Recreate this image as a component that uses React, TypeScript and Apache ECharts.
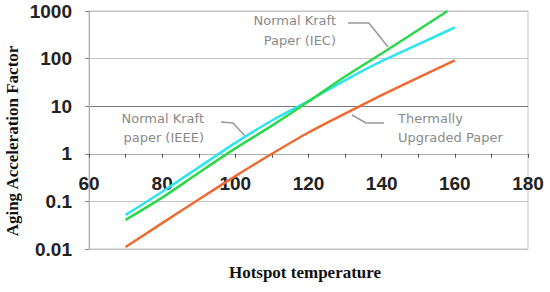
import React, { useEffect, useRef } from "react";
import * as echarts from "echarts";

const temps = [70, 80, 90, 100, 110, 120, 130, 140, 150, 160];
const iecTemps = [70, 80, 90, 100, 110, 120, 130, 140, 150, 158];
const iecValues = [0.041, 0.12, 0.4, 1.3, 3.9, 12.5, 42, 128, 400, 1000];
const ieeeNormalValues = [0.052, 0.16, 0.52, 1.7, 5.0, 13, 35, 88, 200, 450];
const upgradedValues = [0.011, 0.035, 0.11, 0.34, 1.0, 2.8, 7, 17, 40, 92];
const xTicks = [60, 80, 100, 120, 140, 160, 180];
const yTicks = [0.01, 0.1, 1, 10, 100, 1000];

const pairs = (xs: number[], ys: number[]) => xs.map((x, i) => [x, ys[i]]);

export default function App() {
  const ref = useRef<HTMLDivElement>(null);
  useEffect(() => {
    if (!ref.current) return;
    const chart = echarts.init(ref.current, undefined, { renderer: "svg" });
    const gridTop = 11;
    const gridBottom = 43;
    const gridH = 292 - gridTop - gridBottom;
    const decades = Math.log10(yTicks[yTicks.length - 1] / yTicks[0]);
    const oneOffset = -(gridH * Math.log10(1 / yTicks[0])) / decades;
    const labelStyle = { fill: "#8a8a8a", fontFamily: "DejaVu Sans", fontSize: 13 };
    chart.setOption({
      animation: false,
      grid: {
        left: 89,
        right: 22,
        top: gridTop,
        bottom: gridBottom,
        show: true,
        borderColor: "#c4c4c4",
        borderWidth: 1,
      },
      xAxis: {
        type: "value",
        min: xTicks[0],
        max: xTicks[xTicks.length - 1],
        interval: 20,
        offset: oneOffset,
        axisLine: { show: true, lineStyle: { color: "#b0b0b0", width: 1 } },
        axisTick: { show: true, length: 4, inside: false, lineStyle: { color: "#555" } },
        minorTick: { show: true, splitNumber: 2, length: 4, lineStyle: { color: "#555" } },
        splitLine: { show: false },
        axisLabel: {
          margin: 20,
          color: "#222",
          fontFamily: "Liberation Sans",
          fontWeight: "bold",
          fontSize: 19,
        },
      },
      yAxis: {
        type: "log",
        logBase: 10,
        min: yTicks[0],
        max: yTicks[yTicks.length - 1],
        axisLine: { show: true, lineStyle: { color: "#b0b0b0" } },
        axisTick: { show: true, length: 4, lineStyle: { color: "#888" } },
        splitLine: {
          show: true,
          lineStyle: {
            color: ["#c4c4c4", "#c4c4c4", "#b8b8b8", "#7a7a7a", "#c4c4c4", "#c4c4c4"],
            width: 1,
          },
        },
        axisLabel: {
          margin: 17,
          color: "#222",
          fontFamily: "Liberation Sans",
          fontWeight: "bold",
          fontSize: 19,
          formatter: (v: number) => String(Number(v.toPrecision(6))),
        },
      },
      series: [
        {
          name: "Normal Kraft paper (IEEE)",
          type: "line",
          data: pairs(temps, ieeeNormalValues),
          smooth: 0.3,
          showSymbol: false,
          lineStyle: { color: "#2ee4ee", width: 2.5 },
          z: 3,
        },
        {
          name: "Normal Kraft Paper (IEC)",
          type: "line",
          data: pairs(iecTemps, iecValues),
          smooth: 0.3,
          showSymbol: false,
          lineStyle: { color: "#2bd84c", width: 2.5 },
          z: 4,
        },
        {
          name: "Thermally Upgraded Paper",
          type: "line",
          data: pairs(temps, upgradedValues),
          smooth: 0.3,
          showSymbol: false,
          lineStyle: { color: "#ee6a30", width: 2.5 },
          z: 3,
        },
      ],
      graphic: [
        { type: "text", x: 336, y: 20, style: { ...labelStyle, text: "Normal Kraft", align: "right", verticalAlign: "middle" } },
        { type: "text", x: 336, y: 40, style: { ...labelStyle, text: "Paper (IEC)", align: "right", verticalAlign: "middle" } },
        { type: "text", x: 204, y: 118, style: { ...labelStyle, text: "Normal Kraft", align: "right", verticalAlign: "middle" } },
        { type: "text", x: 204, y: 137, style: { ...labelStyle, text: "paper (IEEE)", align: "right", verticalAlign: "middle" } },
        { type: "text", x: 398, y: 118, style: { ...labelStyle, text: "Thermally", align: "left", verticalAlign: "middle" } },
        { type: "text", x: 398, y: 137, style: { ...labelStyle, text: "Upgraded Paper", align: "left", verticalAlign: "middle" } },
        { type: "polyline", shape: { points: [[348, 23], [369, 23], [388, 47]] }, style: { stroke: "#999", lineWidth: 1.5, fill: null } },
        { type: "polyline", shape: { points: [[221, 122], [233, 123], [246, 137]] }, style: { stroke: "#999", lineWidth: 1.5, fill: null } },
        { type: "polyline", shape: { points: [[352, 115], [366, 123], [384, 123]] }, style: { stroke: "#999", lineWidth: 1.5, fill: null } },
        {
          type: "text",
          x: 12,
          y: 141,
          rotation: Math.PI / 2,
          style: {
            text: "Aging Acceleration Factor",
            fill: "#111",
            fontFamily: "Liberation Serif",
            fontWeight: "bold",
            fontSize: 17,
            align: "center",
            verticalAlign: "middle",
          },
        },
        {
          type: "text",
          x: 305,
          y: 272,
          style: {
            text: "Hotspot temperature",
            fill: "#111",
            fontFamily: "Liberation Serif",
            fontWeight: "bold",
            fontSize: 17,
            align: "center",
            verticalAlign: "middle",
          },
        },
      ],
    });
    return () => chart.dispose();
  }, []);
  return (
    <div
      ref={ref}
      style={{ position: "absolute", left: 0, top: 0, width: 550, height: 292, background: "#fff" }}
    />
  );
}
